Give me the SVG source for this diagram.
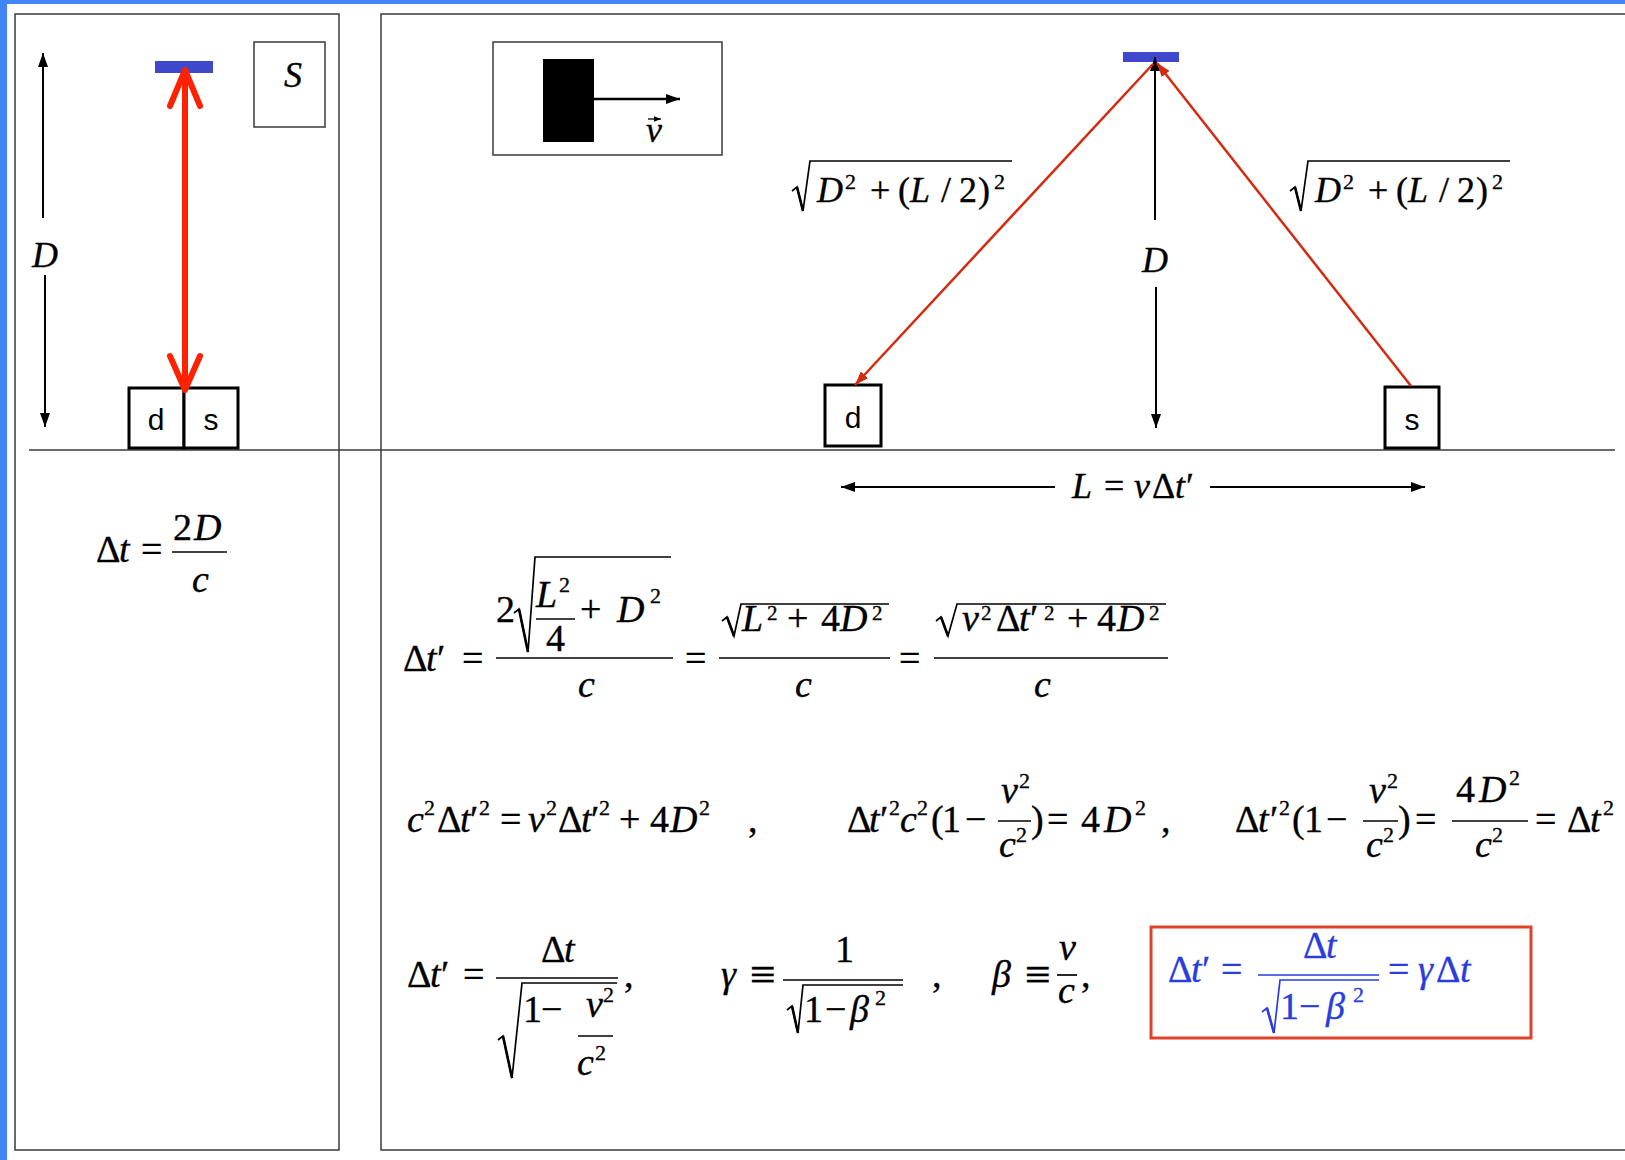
<svg xmlns="http://www.w3.org/2000/svg" width="1625" height="1160" viewBox="0 0 1625 1160">
<style>
.frame{fill:none;stroke:#3a3a3a;stroke-width:1.5}
.box{fill:#fff;stroke:#000;stroke-width:3}
.m{font-family:"Liberation Serif","Times New Roman",serif;font-size:38px;fill:#000;stroke:#000;stroke-width:0.35}
.lb{font-family:"Liberation Serif","Times New Roman",serif;font-size:36px;fill:#000;stroke:#000;stroke-width:0.35}
.i{font-style:italic}
.s{font-size:22px}
.s2{font-size:21px}
.eqv{font-size:46px}
.sans{font-family:"Liberation Sans",Arial,sans-serif;font-size:30px;fill:#000}
.bar{stroke:#000;stroke-width:1.7}
.rad{fill:none;stroke:#000;stroke-width:1.7;stroke-linejoin:miter}
.blue{fill:#2a3cdb;stroke:#2a3cdb}
.bbar{stroke:#2a3cdb;stroke-width:1.7}
.brad{fill:none;stroke:#2a3cdb;stroke-width:1.7}
.mirror{fill:#3f48cc}
.arr{stroke:#000;stroke-width:2;fill:none}
.ray{stroke:#d42a10;stroke-width:2.5;fill:none}
</style>
<defs>
<marker id="ah" viewBox="0 0 14 10" refX="14" refY="5" markerWidth="14" markerHeight="10" markerUnits="userSpaceOnUse" orient="auto"><path d="M0,0 L14,5 L0,10 z" fill="#000"/></marker>
<marker id="ahr" viewBox="0 0 14 10" refX="14" refY="5" markerWidth="14" markerHeight="10" markerUnits="userSpaceOnUse" orient="auto"><path d="M0,0 L14,5 L0,10 z" fill="#d42a10"/></marker>
<marker id="ahs" viewBox="0 0 10 8" refX="10" refY="4" markerWidth="7" markerHeight="6" markerUnits="userSpaceOnUse" orient="auto"><path d="M0,0 L10,4 L0,8 z" fill="#000"/></marker>
<g id="sqlabel">
<path class="rad" d="M0,30 L5,26 L11,50 L18,0 L220,0"/>
<path d="M5,26 L11,50" stroke="#000" stroke-width="2.6"/>
<text class="lb" y="41"><tspan x="25" class="i">D</tspan><tspan x="78">+</tspan><tspan x="106">(</tspan><tspan x="118" class="i">L</tspan><tspan x="149">/</tspan><tspan x="167">2</tspan><tspan x="186">)</tspan></text>
<text class="lb s" y="28"><tspan x="53">2</tspan><tspan x="202">2</tspan></text>
</g>
</defs>
<rect x="0" y="0" width="1625" height="1160" fill="#fff"/>
<rect x="0" y="0" width="1625" height="4" fill="#4285f4"/>
<rect x="0" y="0" width="7" height="1160" fill="#4285f4"/>

<g id="panel-left"><rect class="frame" x="15" y="14" width="324" height="1136"/></g>
<g id="panel-right"><rect class="frame" x="381" y="14" width="1300" height="1136"/></g>
<g id="divider"><line x1="29" y1="450" x2="1615" y2="450" stroke="#3a3a3a" stroke-width="1.5"/></g>

<!-- left panel -->
<g id="mirror-left"><rect class="mirror" x="155" y="61" width="58" height="12"/></g>
<g id="frame-S"><rect class="frame" x="254" y="42" width="71" height="85"/><text class="lb i" x="284" y="87" font-size="40">S</text></g>
<g id="detector-left"><rect class="box" x="129" y="388" width="55" height="60"/><text class="sans" x="156" y="430" text-anchor="middle">d</text></g>
<g id="source-left"><rect class="box" x="184" y="388" width="54" height="60"/><text class="sans" x="211" y="430" text-anchor="middle">s</text></g>
<g id="label-D-left"><text class="lb i" x="45" y="267" text-anchor="middle">D</text></g>
<g id="eq-left"><text class="m" y="562"><tspan x="96">Δ</tspan><tspan x="119" class="i">t</tspan><tspan x="141">=</tspan></text>
<line class="bar" x1="172" y1="552" x2="227" y2="552"/>
<text class="m" y="540"><tspan x="173">2</tspan><tspan x="194" class="i">D</tspan></text>
<text class="m i" x="192" y="592">c</text></g>

<!-- right panel top -->
<g id="velocity-box"><rect class="frame" x="493" y="42" width="229" height="113"/><rect x="543" y="59" width="51" height="83" fill="#000"/>
<text class="lb i" x="646" y="142" font-size="32">v</text></g>
<g id="mirror-right"><rect class="mirror" x="1123" y="52" width="56" height="10"/></g>
<g id="detector-right"><rect class="box" x="825" y="385" width="56" height="61"/><text class="sans" x="853" y="428" text-anchor="middle">d</text></g>
<g id="source-right"><rect class="box" x="1385" y="387" width="54" height="61"/><text class="sans" x="1412" y="430" text-anchor="middle">s</text></g>
<g id="label-sqrt-left"><use href="#sqlabel" transform="translate(792,161)"/></g>
<g id="label-sqrt-right"><use href="#sqlabel" transform="translate(1290,161)"/></g>
<g id="label-D-right"><text class="lb i" x="1155" y="272" text-anchor="middle">D</text></g>
<g id="label-L"><text class="lb" y="498"><tspan x="1072" class="i">L</tspan><tspan x="1104">=</tspan><tspan x="1134" class="i">v</tspan><tspan x="1152">Δ</tspan><tspan x="1175" class="i">t</tspan><tspan x="1186">′</tspan></text></g>

<g id="connectors">
<line class="arr" x1="43" y1="218" x2="43" y2="53" marker-end="url(#ah)"/>
<line class="arr" x1="45" y1="275" x2="45" y2="427" marker-end="url(#ah)"/>
<line x1="185" y1="70" x2="185" y2="390" stroke="#ff2200" stroke-width="6"/>
<polyline points="170,106 185,70 200,106" fill="none" stroke="#ff2200" stroke-width="6" stroke-linecap="round" stroke-linejoin="round"/>
<polyline points="170,356 185,390 200,356" fill="none" stroke="#ff2200" stroke-width="6" stroke-linecap="round" stroke-linejoin="round"/>
<line x1="594" y1="99" x2="680" y2="99" stroke="#000" stroke-width="2.5" marker-end="url(#ah)"/>
<line x1="648" y1="119" x2="661" y2="119" stroke="#000" stroke-width="1.3" marker-end="url(#ahs)"/>
<line class="arr" x1="1155" y1="220" x2="1155" y2="57" marker-end="url(#ah)"/>
<line class="arr" x1="1156" y1="287" x2="1156" y2="428" marker-end="url(#ah)"/>
<line class="ray" x1="1153" y1="64" x2="855" y2="385" marker-end="url(#ahr)"/>
<line class="ray" x1="1411" y1="386" x2="1157" y2="63" marker-end="url(#ahr)"/>
<line class="arr" x1="1055" y1="487" x2="841" y2="487" marker-end="url(#ah)"/>
<line class="arr" x1="1210" y1="487" x2="1425" y2="487" marker-end="url(#ah)"/>
</g>

<!-- row 1 -->
<g id="eq-row1">
<text class="m" y="671"><tspan x="403">Δ</tspan><tspan x="426" class="i">t</tspan><tspan x="437">′</tspan><tspan x="462">=</tspan><tspan x="685">=</tspan><tspan x="899">=</tspan></text>
<line class="bar" x1="496" y1="658" x2="673" y2="658"/>
<text class="m" x="496" y="622">2</text>
<path class="rad" d="M514,613 L519,609 L528,652 L535,557 L671,557"/>
<path d="M519,609 L528,652" stroke="#000" stroke-width="2.6"/>
<text class="m i" x="536" y="607">L</text><text class="m s" x="559" y="592">2</text>
<line class="bar" x1="536" y1="619" x2="575" y2="619"/>
<text class="m" x="546" y="651">4</text>
<text class="m" y="622"><tspan x="580">+</tspan><tspan x="617" class="i">D</tspan></text><text class="m s" x="650" y="603">2</text>
<text class="m i" x="578" y="697">c</text>
<line class="bar" x1="719" y1="658" x2="890" y2="658"/>
<path class="rad" d="M722,621 L727,617 L734,636 L741,604 L889,604"/>
<path d="M727,617 L734,636" stroke="#000" stroke-width="2.6"/>
<text class="m" y="631"><tspan x="742" class="i">L</tspan><tspan x="787">+</tspan><tspan x="821">4</tspan><tspan x="840" class="i">D</tspan></text>
<text class="m s2" y="620"><tspan x="767">2</tspan><tspan x="872">2</tspan></text>
<text class="m i" x="795" y="697">c</text>
<line class="bar" x1="934" y1="658" x2="1168" y2="658"/>
<path class="rad" d="M936,621 L941,617 L948,636 L957,604 L1166,604"/>
<path d="M941,617 L948,636" stroke="#000" stroke-width="2.6"/>
<text class="m" y="631"><tspan x="962" class="i">v</tspan><tspan x="996">Δ</tspan><tspan x="1019" class="i">t</tspan><tspan x="1030">′</tspan><tspan x="1067">+</tspan><tspan x="1097">4</tspan><tspan x="1117" class="i">D</tspan></text>
<text class="m s2" y="620"><tspan x="981">2</tspan><tspan x="1044">2</tspan><tspan x="1149">2</tspan></text>
<text class="m i" x="1034" y="697">c</text>
</g>

<!-- row 2 -->
<g id="eq-row2">
<text class="m" y="832"><tspan x="407" class="i">c</tspan><tspan x="437">Δ</tspan><tspan x="460" class="i">t</tspan><tspan x="470">′</tspan><tspan x="500">=</tspan><tspan x="528" class="i">v</tspan><tspan x="558">Δ</tspan><tspan x="581" class="i">t</tspan><tspan x="591">′</tspan><tspan x="619">+</tspan><tspan x="650">4</tspan><tspan x="670" class="i">D</tspan><tspan x="748">,</tspan></text>
<text class="m s" y="815"><tspan x="424">2</tspan><tspan x="479">2</tspan><tspan x="546">2</tspan><tspan x="599">2</tspan><tspan x="699">2</tspan></text>

<text class="m" y="832"><tspan x="847">Δ</tspan><tspan x="869" class="i">t</tspan><tspan x="880">′</tspan><tspan x="900" class="i">c</tspan><tspan x="931">(</tspan><tspan x="942">1</tspan><tspan x="965">−</tspan><tspan x="1031">)</tspan><tspan x="1047">=</tspan><tspan x="1081">4</tspan><tspan x="1104" class="i">D</tspan><tspan x="1161">,</tspan></text>
<text class="m s" y="815"><tspan x="889">2</tspan><tspan x="917">2</tspan><tspan x="1135">2</tspan></text>
<line class="bar" x1="998" y1="821" x2="1031" y2="821"/>
<text class="m i" x="1001" y="803">v</text><text class="m s" x="1019" y="788">2</text>
<text class="m i" x="999" y="857">c</text><text class="m s" x="1016" y="842">2</text>

<text class="m" y="832"><tspan x="1235">Δ</tspan><tspan x="1258" class="i">t</tspan><tspan x="1270">′</tspan><tspan x="1292">(</tspan><tspan x="1304">1</tspan><tspan x="1326">−</tspan><tspan x="1398">)</tspan><tspan x="1415">=</tspan><tspan x="1535">=</tspan><tspan x="1567">Δ</tspan><tspan x="1590" class="i">t</tspan></text>
<text class="m s" y="815"><tspan x="1279">2</tspan><tspan x="1603">2</tspan></text>
<line class="bar" x1="1363" y1="821" x2="1398" y2="821"/>
<text class="m i" x="1369" y="803">v</text><text class="m s" x="1387" y="788">2</text>
<text class="m i" x="1366" y="857">c</text><text class="m s" x="1383" y="842">2</text>
<line class="bar" x1="1452" y1="821" x2="1528" y2="821"/>
<text class="m" y="802"><tspan x="1456">4</tspan><tspan x="1479" class="i">D</tspan></text><text class="m s" x="1509" y="785">2</text>
<text class="m i" x="1475" y="857">c</text><text class="m s" x="1492" y="842">2</text>
</g>

<!-- row 3 -->
<g id="eq-row3">
<text class="m" y="987"><tspan x="407">Δ</tspan><tspan x="430" class="i">t</tspan><tspan x="441">′</tspan><tspan x="463">=</tspan><tspan x="624">,</tspan></text>
<line class="bar" x1="496" y1="978" x2="618" y2="978"/>
<text class="m" y="962"><tspan x="541">Δ</tspan><tspan x="564" class="i">t</tspan></text>
<path class="rad" d="M498,1040 L503,1036 L512,1078 L522,983 L617,983"/>
<path d="M503,1036 L512,1078" stroke="#000" stroke-width="2.6"/>
<text class="m" y="1022"><tspan x="523">1</tspan><tspan x="541">−</tspan></text>
<line class="bar" x1="578" y1="1036" x2="613" y2="1036"/>
<text class="m i" x="586" y="1017">v</text><text class="m s" x="603" y="1002">2</text>
<text class="m i" x="577" y="1075">c</text><text class="m s" x="595" y="1060">2</text>

<text class="m" y="987"><tspan x="721" class="i">γ</tspan><tspan x="932">,</tspan></text>
<text class="m eqv" x="750" y="990">≡</text>
<line class="bar" x1="783" y1="980" x2="903" y2="980"/>
<text class="m" x="835" y="962">1</text>
<path class="rad" d="M787,1010 L792,1006 L798,1033 L803,985 L903,985"/>
<path d="M792,1006 L798,1033" stroke="#000" stroke-width="2.6"/>
<text class="m" y="1022"><tspan x="804">1</tspan><tspan x="825">−</tspan><tspan x="850" class="i">β</tspan></text>
<text class="m s" x="875" y="1005">2</text>

<text class="m" y="987"><tspan x="992" class="i">β</tspan><tspan x="1081">,</tspan></text>
<text class="m eqv" x="1025" y="990">≡</text>
<line class="bar" x1="1057" y1="975" x2="1077" y2="975"/>
<text class="m i" x="1059" y="960">v</text>
<text class="m i" x="1058" y="1003">c</text>
</g>

<g id="result-box">
<rect x="1151" y="927" width="380" height="111" fill="none" stroke="#e0412b" stroke-width="3"/>
<text class="m blue" y="982"><tspan x="1168">Δ</tspan><tspan x="1191" class="i">t</tspan><tspan x="1202">′</tspan><tspan x="1221">=</tspan><tspan x="1388">=</tspan><tspan x="1418" class="i">γ</tspan><tspan x="1436">Δ</tspan><tspan x="1460" class="i">t</tspan></text>
<line class="bbar" x1="1258" y1="975" x2="1379" y2="975"/>
<text class="m blue" y="958"><tspan x="1303">Δ</tspan><tspan x="1326" class="i">t</tspan></text>
<path class="brad" d="M1262,1012 L1267,1008 L1274,1033 L1280,980 L1379,980"/>
<path d="M1267,1008 L1274,1033" stroke="#2a3cdb" stroke-width="2.6"/>
<text class="m blue" y="1019"><tspan x="1280">1</tspan><tspan x="1299">−</tspan><tspan x="1326" class="i">β</tspan></text>
<text class="m s blue" x="1353" y="1002">2</text>
</g>
</svg>
